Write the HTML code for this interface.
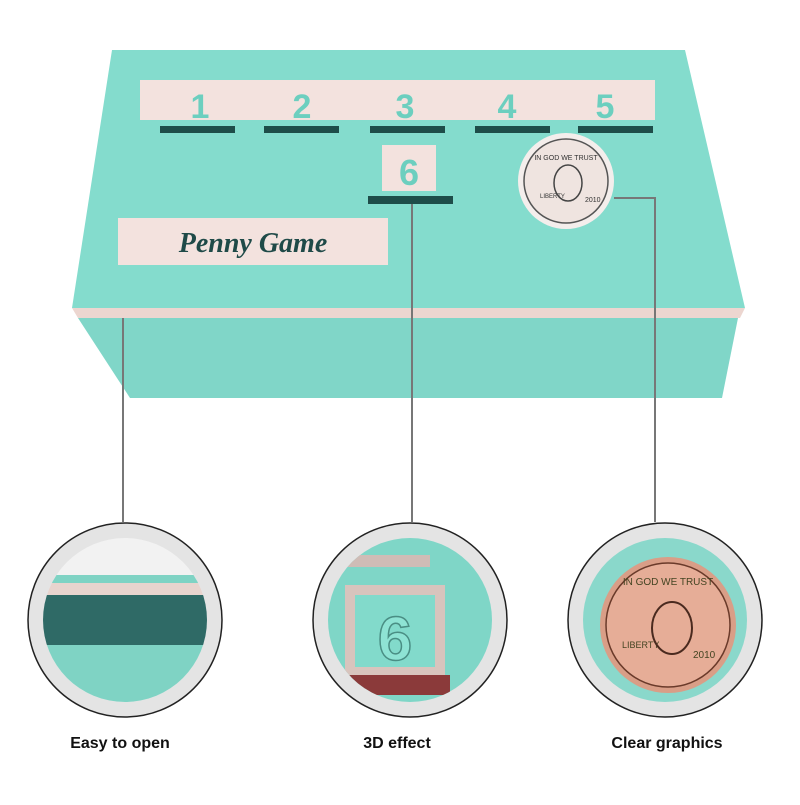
<!DOCTYPE html>
<html><head><meta charset="utf-8"><style>
body{margin:0;width:800px;height:800px;background:#fff;overflow:hidden;font-family:"Liberation Sans",sans-serif}
</style></head><body>
<svg width="800" height="800" viewBox="0 0 800 800" xmlns="http://www.w3.org/2000/svg">
<polygon points="78,318 738,318 722,398 130,398" fill="#80d6c8"/>
<polygon points="72,308 745,308 740,318 78,318" fill="#ecd6d0"/>
<polygon points="112,50 685,50 745,308 72,308" fill="#84dccd"/>
<rect x="140" y="80" width="515" height="40" fill="#f3e2de"/>
<g font-family="Liberation Sans" font-weight="bold" font-size="34" fill="#6ccfbf" text-anchor="middle">
<text x="200" y="118">1</text><text x="302" y="118">2</text><text x="405" y="118">3</text><text x="507" y="118">4</text><text x="605" y="118">5</text>
</g>
<g fill="#1e4d49">
<rect x="160" y="126" width="75" height="7"/><rect x="264" y="126" width="75" height="7"/><rect x="370" y="126" width="75" height="7"/><rect x="475" y="126" width="75" height="7"/><rect x="578" y="126" width="75" height="7"/>
<rect x="368" y="196" width="85" height="8"/>
</g>
<rect x="382" y="145" width="54" height="46" fill="#f3e2de"/>
<text x="409" y="185" font-weight="bold" font-size="36" fill="#6ccfbf" text-anchor="middle">6</text>
<circle cx="566" cy="181" r="48" fill="#f4eeec"/>
<circle cx="566" cy="181" r="42" fill="#efe4e0" stroke="#555" stroke-width="1.5"/>
<text x="566" y="160" font-size="7" text-anchor="middle" fill="#333">IN GOD WE TRUST</text>
<text x="540" y="198" font-size="6" fill="#333">LIBERTY</text>
<text x="585" y="202" font-size="7" fill="#333">2010</text>
<ellipse cx="568" cy="183" rx="14" ry="18" fill="none" stroke="#444" stroke-width="1.5"/>
<rect x="118" y="218" width="270" height="47" fill="#f3e2de"/>
<text x="253" y="252" font-family="Liberation Serif" font-style="italic" font-weight="bold" font-size="28" fill="#1f4a48" text-anchor="middle">Penny Game</text>
<g stroke="#777" stroke-width="2" fill="none">
<line x1="123" y1="318" x2="123" y2="522"/>
<polyline points="412,204 412,522"/>
<polyline points="614,198 655,198 655,522"/>
</g>
<g>
<circle cx="125" cy="620" r="97" fill="#e4e4e4" stroke="#222" stroke-width="1.5"/>
<circle cx="410" cy="620" r="97" fill="#e4e4e4" stroke="#222" stroke-width="1.5"/>
<circle cx="665" cy="620" r="97" fill="#e4e4e4" stroke="#222" stroke-width="1.5"/>
</g>
<defs>
<clipPath id="c1"><circle cx="125" cy="620" r="82"/></clipPath>
<clipPath id="c2"><circle cx="410" cy="620" r="82"/></clipPath>
<clipPath id="c3"><circle cx="665" cy="620" r="82"/></clipPath>
</defs>
<g clip-path="url(#c1)">
<rect x="40" y="530" width="170" height="180" fill="#f2f2f2"/>
<rect x="40" y="575" width="170" height="8" fill="#7fd3c4"/>
<rect x="40" y="583" width="170" height="12" fill="#e8d4ce"/>
<rect x="40" y="595" width="170" height="50" fill="#2f6a66"/>
<rect x="40" y="645" width="170" height="70" fill="#7fd3c4"/>
</g>
<g clip-path="url(#c2)">
<rect x="320" y="530" width="180" height="180" fill="#7fd6c7"/>
<rect x="340" y="555" width="90" height="12" fill="#cfbcb6"/>
<rect x="345" y="585" width="100" height="90" fill="#d8c4bd"/>
<rect x="355" y="595" width="80" height="72" fill="#82dacb"/>
<text x="395" y="660" font-weight="bold" font-size="62" fill="#8ee3d4" stroke="#4a8e84" stroke-width="1.5" text-anchor="middle">6</text>
<rect x="340" y="675" width="110" height="20" fill="#8b3a3a"/>
</g>
<g clip-path="url(#c3)">
<rect x="575" y="530" width="180" height="180" fill="#8ad8cb"/>
<circle cx="668" cy="625" r="68" fill="#d99e87"/>
<circle cx="668" cy="625" r="62" fill="#e6ad97" stroke="#6a3a2a" stroke-width="1.5"/>
<text x="668" y="585" font-size="10" text-anchor="middle" fill="#442">IN GOD WE TRUST</text>
<text x="622" y="648" font-size="9" fill="#442">LIBERTY</text>
<text x="693" y="658" font-size="10" fill="#442">2010</text>
<ellipse cx="672" cy="628" rx="20" ry="26" fill="none" stroke="#4a2a1f" stroke-width="2"/>
</g>
<g font-weight="bold" font-size="16" fill="#111" text-anchor="middle">
<text x="120" y="748">Easy to open</text>
<text x="397" y="748">3D effect</text>
<text x="667" y="748">Clear graphics</text>
</g>
</svg>
</body></html>
